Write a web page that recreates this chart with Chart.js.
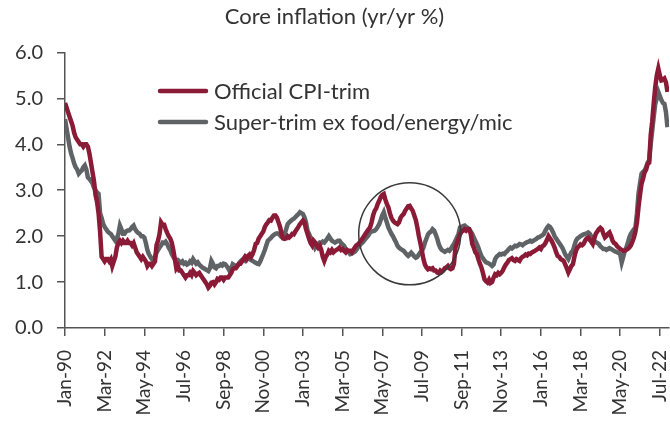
<!DOCTYPE html>
<html>
<head>
<meta charset="utf-8">
<script src="https://cdn.jsdelivr.net/npm/chart.js@4"></script>
<style>
body{margin:0;background:#fff;}
#wrap{width:670px;height:424px;}
</style>
</head>
<body>
<div id="wrap"><canvas id="myChart" width="670" height="424"></canvas></div>
<script>
// monthly values, Jan-1990 .. Dec-2022, one row per year
var cpiTrim=[
4.9,4.8,4.7,4.6,4.5,4.4,4.25,4.15,4.1,4.05,4.0,4.0,
3.95,4.0,4.0,3.95,3.8,3.6,3.4,3.2,2.9,2.75,2.5,2.1,
1.55,1.5,1.45,1.5,1.5,1.45,1.5,1.35,1.45,1.55,1.75,1.85,
1.9,1.85,1.9,1.85,1.85,1.9,1.85,1.85,1.8,1.85,1.75,1.65,
1.6,1.55,1.5,1.55,1.5,1.45,1.35,1.4,1.4,1.35,1.4,1.45,
1.8,1.9,2.05,2.3,2.25,2.25,2.15,2.07,2.0,1.95,1.86,1.7,
1.5,1.3,1.35,1.25,1.25,1.2,1.15,1.1,1.15,1.15,1.2,1.15,
1.24,1.2,1.15,1.18,1.2,1.15,1.1,1.05,1.0,0.95,0.88,0.92,
0.99,1.0,0.95,1.0,1.07,1.05,1.1,1.1,1.05,1.1,1.1,1.1,
1.15,1.2,1.28,1.3,1.3,1.35,1.4,1.4,1.45,1.5,1.55,1.5,
1.57,1.6,1.55,1.61,1.7,1.83,1.85,1.95,2.0,2.05,2.1,2.2,
2.26,2.3,2.35,2.34,2.4,2.45,2.45,2.4,2.3,2.2,2.05,1.95,
1.94,1.95,2.0,1.97,2.0,2.05,2.04,2.1,2.15,2.2,2.26,2.3,
2.34,2.3,2.15,2.05,1.94,1.85,1.8,1.9,1.86,1.8,1.75,1.79,
1.7,1.55,1.46,1.55,1.6,1.68,1.65,1.7,1.65,1.68,1.7,1.72,
1.75,1.7,1.72,1.68,1.65,1.7,1.68,1.68,1.65,1.7,1.75,1.8,
1.82,1.86,1.9,1.95,2.0,2.05,2.1,2.15,2.19,2.3,2.45,2.55,
2.6,2.7,2.77,2.85,2.9,2.92,2.8,2.7,2.63,2.5,2.4,2.34,
2.3,2.28,2.26,2.3,2.4,2.45,2.48,2.55,2.6,2.65,2.66,2.6,
2.55,2.45,2.35,2.19,2.0,1.85,1.68,1.5,1.38,1.32,1.28,1.3,
1.28,1.3,1.25,1.25,1.21,1.2,1.25,1.22,1.25,1.3,1.32,1.35,
1.3,1.28,1.3,1.4,1.75,1.85,1.95,2.04,2.1,2.12,2.15,2.12,
2.15,2.15,2.05,1.83,1.75,1.65,1.61,1.5,1.4,1.32,1.2,1.06,
1.02,0.99,1.05,0.98,1.0,1.1,1.17,1.15,1.2,1.17,1.2,1.25,
1.32,1.38,1.42,1.48,1.5,1.52,1.48,1.46,1.5,1.48,1.46,1.52,
1.55,1.57,1.6,1.58,1.62,1.61,1.64,1.66,1.68,1.7,1.72,1.75,
1.72,1.78,1.8,1.85,1.92,2.0,1.95,1.9,1.83,1.75,1.65,1.57,
1.55,1.5,1.48,1.46,1.38,1.3,1.21,1.28,1.35,1.39,1.55,1.68,
1.75,1.78,1.82,1.8,1.83,1.9,1.95,1.97,1.92,1.88,1.83,1.95,
2.05,2.1,2.15,2.18,2.15,2.05,1.97,2.0,2.05,2.08,2.0,1.9,
1.85,1.83,1.78,1.75,1.72,1.7,1.68,1.68,1.7,1.72,1.75,1.8,
1.88,1.97,2.1,2.3,2.63,2.9,3.14,3.25,3.39,3.45,3.57,3.6,
4.2,4.5,4.9,5.25,5.5,5.65,5.5,5.39,5.4,5.43,5.35,5.14
];
var superTrim=[
4.55,4.35,4.15,3.95,3.8,3.7,3.58,3.5,3.45,3.36,3.4,3.43,
3.5,3.54,3.45,3.28,3.25,3.2,3.15,3.06,3.0,2.95,2.92,2.5,
2.4,2.27,2.2,2.15,2.1,2.07,2.05,2.0,1.95,1.9,1.95,2.05,
2.23,2.15,2.05,2.05,2.1,2.12,2.12,2.15,2.2,2.23,2.15,2.1,
2.07,2.05,2.0,2.0,1.97,1.85,1.7,1.61,1.55,1.5,1.46,1.55,
1.64,1.7,1.75,1.8,1.86,1.85,1.88,1.83,1.75,1.7,1.61,1.55,
1.5,1.46,1.48,1.45,1.42,1.45,1.4,1.42,1.38,1.4,1.45,1.42,
1.5,1.45,1.4,1.43,1.38,1.35,1.32,1.3,1.28,1.26,1.24,1.3,
1.46,1.4,1.32,1.3,1.35,1.35,1.38,1.36,1.4,1.39,1.35,1.3,
1.24,1.3,1.39,1.37,1.35,1.35,1.4,1.45,1.48,1.5,1.47,1.52,
1.5,1.5,1.48,1.46,1.44,1.42,1.4,1.39,1.45,1.53,1.61,1.7,
1.8,1.9,1.93,1.96,2.0,2.03,2.05,2.06,2.05,2.02,1.98,1.97,
2.05,2.15,2.26,2.3,2.33,2.36,2.38,2.41,2.45,2.48,2.52,2.5,
2.48,2.41,2.3,2.12,2.05,1.97,1.9,1.85,1.75,1.8,1.83,1.86,
1.85,1.88,1.86,1.9,1.95,2.0,1.95,1.9,1.88,1.86,1.88,1.9,
1.9,1.85,1.82,1.79,1.72,1.68,1.65,1.61,1.62,1.64,1.66,1.7,
1.75,1.79,1.83,1.86,1.9,1.94,1.98,2.02,2.08,2.1,2.11,2.12,
2.15,2.2,2.26,2.35,2.45,2.52,2.4,2.3,2.19,2.12,2.05,2.0,
1.93,1.87,1.79,1.75,1.72,1.7,1.68,1.64,1.6,1.57,1.6,1.64,
1.6,1.56,1.53,1.55,1.6,1.65,1.68,1.75,1.86,1.95,2.04,2.08,
2.1,2.15,2.12,2.04,1.95,1.83,1.75,1.7,1.68,1.66,1.68,1.7,
1.68,1.72,1.78,1.83,1.9,1.97,2.05,2.19,2.2,2.22,2.23,2.2,
2.18,2.15,2.1,2.05,1.97,1.9,1.83,1.75,1.65,1.57,1.52,1.47,
1.43,1.42,1.4,1.38,1.35,1.38,1.5,1.55,1.58,1.61,1.6,1.62,
1.61,1.65,1.68,1.72,1.75,1.73,1.76,1.79,1.78,1.8,1.83,1.82,
1.8,1.83,1.85,1.87,1.88,1.9,1.88,1.9,1.92,1.94,1.97,1.98,
2.0,2.02,2.05,2.12,2.18,2.22,2.2,2.15,2.08,2.0,1.95,1.9,
1.85,1.8,1.75,1.68,1.6,1.55,1.5,1.58,1.65,1.68,1.8,1.9,
1.95,1.97,2.0,2.02,2.04,2.05,2.06,2.08,2.05,2.0,1.95,1.9,
1.87,1.85,1.83,1.78,1.75,1.72,1.72,1.7,1.72,1.74,1.72,1.7,
1.68,1.66,1.65,1.63,1.61,1.43,1.55,1.68,1.75,1.85,1.97,2.05,
2.1,2.15,2.19,2.5,2.92,3.15,3.36,3.4,3.43,3.5,3.6,3.65,
4.0,4.3,4.6,4.88,5.0,5.14,5.05,4.96,4.9,4.88,4.7,4.37
];
var tickLabels=["Jan-90","Mar-92","May-94","Jul-96","Sep-98","Nov-00","Jan-03","Mar-05",
"May-07","Jul-09","Sep-11","Nov-13","Jan-16","Mar-18","May-20","Jul-22"];
var tickStep=26; // months between labels
var circleAt=[226,2.05]; // month index, value

var txtColor="#333333";
var fontName="Lato, 'Open Sans', sans-serif";

function toPoints(arr){
    var pts=[];
    arr.forEach(function(v,i){ pts.push({x:i,y:v}); });
    return pts;
}

var circlePlugin={
    id:"circleNote",
    afterDatasetsDraw:function(chart){
        var ctx=chart.ctx;
        var cx=chart.scales.x.getPixelForValue(circleAt[0]);
        var cy=chart.scales.y.getPixelForValue(circleAt[1]);
        ctx.save();
        ctx.beginPath();
        ctx.arc(cx,cy,51,0,Math.PI*2);
        ctx.strokeStyle="#3a3a3a";
        ctx.lineWidth=1.5;
        ctx.stroke();
        ctx.restore();
    }
};

var legendPlugin={
    id:"innerLegend",
    afterDraw:function(chart){
        var ctx=chart.ctx;
        ctx.save();
        ctx.font="22px "+fontName;
        ctx.textBaseline="middle";
        chart.data.datasets.forEach(function(ds,k){
            var y=91+k*31;
            ctx.beginPath();
            ctx.moveTo(160,y);
            ctx.lineTo(206,y);
            ctx.strokeStyle=ds.borderColor;
            ctx.lineWidth=4.5;
            ctx.lineCap="round";
            ctx.stroke();
            ctx.fillStyle=txtColor;
            ctx.fillText(ds.label,214,y+1);
        });
        ctx.restore();
    }
};

var ctx=document.getElementById("myChart").getContext("2d");
var myChart=new Chart(ctx,{
    type:"line",
    data:{
        datasets:[
            {
                label:"Official CPI-trim",
                data:toPoints(cpiTrim),
                borderColor:"#8b1a37",
                borderWidth:4.5,
                pointRadius:0,
                tension:0
            },
            {
                label:"Super-trim ex food/energy/mic",
                data:toPoints(superTrim),
                borderColor:"#5f6366",
                borderWidth:4.5,
                pointRadius:0,
                tension:0
            }
        ]
    },
    options:{
        responsive:false,
        animation:false,
        events:[],
        layout:{padding:{left:0,right:1,top:0,bottom:0}},
        plugins:{
            legend:{display:false},
            tooltip:{enabled:false},
            title:{
                display:true,
                text:"Core inflation (yr/yr %)",
                color:txtColor,
                font:{family:fontName,size:22,weight:"normal"},
                padding:{top:4,bottom:22}
            }
        },
        scales:{
            x:{
                type:"linear",
                min:0,
                max:396,
                afterFit:function(s){
                    s.height=96;
                    s.paddingLeft=0;
                    s.paddingRight=0;
                },
                border:{display:true,color:"#555",width:1.5},
                grid:{drawOnChartArea:false,drawTicks:true,tickLength:8,color:"#555",lineWidth:1.5},
                ticks:{
                    stepSize:tickStep,
                    includeBounds:false,
                    autoSkip:false,
                    minRotation:90,
                    maxRotation:90,
                    padding:14,
                    color:txtColor,
                    font:{family:fontName,size:19},
                    callback:function(v){ return tickLabels[Math.round(v/tickStep)]; }
                }
            },
            y:{
                min:0,
                max:6,
                afterFit:function(s){ s.width=65; },
                border:{display:true,color:"#555",width:1.5},
                grid:{drawOnChartArea:false,drawTicks:true,tickLength:8,color:"#555",lineWidth:1.5},
                ticks:{
                    stepSize:1,
                    padding:14,
                    color:txtColor,
                    font:{family:fontName,size:20},
                    callback:function(v){ return v.toFixed(1); }
                }
            }
        }
    },
    plugins:[circlePlugin,legendPlugin]
});
</script>
</body>
</html>
